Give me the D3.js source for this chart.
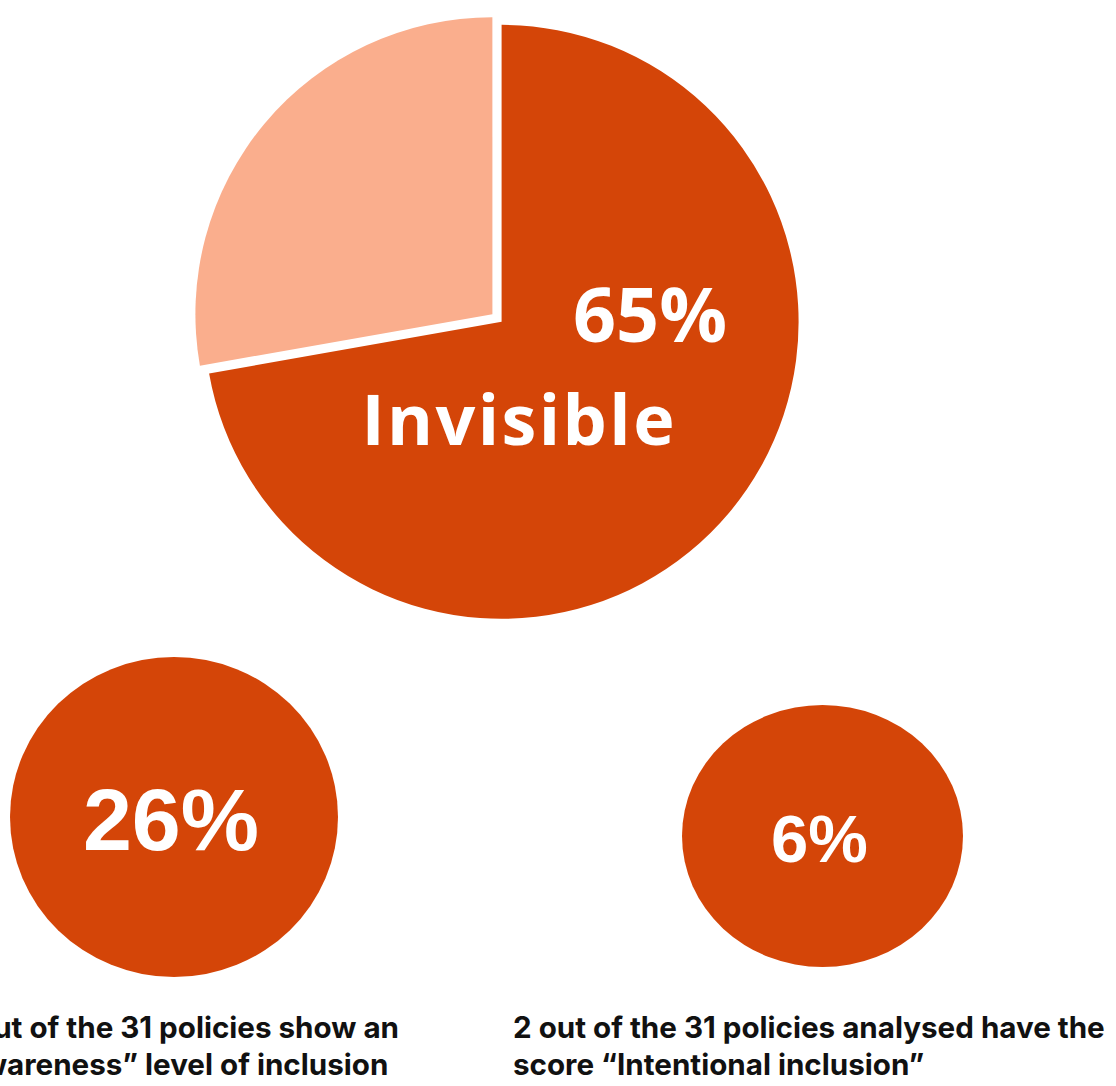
<!DOCTYPE html>
<html lang="en">
<head>
  <meta charset="UTF-8">
  <title>Inclusion scores of policies</title>
  <style>
    body {
      margin: 0;
      background: #fff;
      overflow: hidden;
    }
    .pct {
      font-family: 'Liberation Sans', Arial, sans-serif;
      font-weight: 700;
      fill: #fff;
      text-anchor: middle;
    }
    .pie-label {
      font-family: 'Open Sans', 'Liberation Sans', sans-serif;
      font-weight: 700;
      fill: #fff;
      text-anchor: middle;
    }
    .caption {
      font-family: Inter, 'Noto Sans', sans-serif;
      font-weight: 700;
      fill: #111;
    }
  </style>
  <script src="https://d3js.org/d3.v7.min.js"></script>
</head>
<body>
<svg width="1116" height="1086"></svg>
<script>
  // pie: share of policies scoring "Invisible" vs the rest
  const pieLabels = ['Invisible', 'Other'];
  const pieValues = [65, 25];
  const pieText = ['65%', 'Invisible'];

  // the two smaller scores shown as bubbles
  const bubbleLabels = ['Awareness', 'Intentional inclusion'];
  const bubbleValues = [26, 6];
  const captions = [
    ['8 out of the 31 policies show an', '\u201CAwareness\u201D level of inclusion'],
    ['2 out of the 31 policies analysed have the', 'score \u201CIntentional inclusion\u201D']
  ];

  const dark = '#d44508', light = '#faae8d';

  const svg = d3.select('svg');

  // ---- pie ----
  const cx = 497, cy = 318, r = 297, explode = 6;

  const pie = d3.pie().sort(null).value(d => d)(pieValues);
  const arc = d3.arc().innerRadius(0).outerRadius(r);

  svg.append('g')
      .attr('transform', `translate(${cx},${cy})`)
    .selectAll('path')
    .data(pie)
    .join('path')
      .attr('d', arc)
      .attr('fill', (d, i) => i === 0 ? dark : light)
      .attr('transform', d => {
        const a = (d.startAngle + d.endAngle) / 2;
        return `translate(${Math.sin(a) * explode},${-Math.cos(a) * explode})`;
      });

  svg.append('text')
      .attr('class', 'pie-label')
      .attr('x', 650)
      .attr('y', 342)
      .attr('textLength', 154)
      .attr('lengthAdjust', 'spacingAndGlyphs')
      .style('font-size', '76px')
      .text(pieText[0]);

  svg.append('text')
      .attr('class', 'pie-label')
      .attr('x', 518)
      .attr('y', 445)
      .attr('textLength', 313)
      .attr('lengthAdjust', 'spacing')
      .style('font-size', '70px')
      .text(pieText[1]);

  // ---- bubbles ----
  const bubbles = [
    { cx: 174, cy: 817, rx: 164, ry: 160, fs: 88, ty: 850 },
    { cx: 822.5, cy: 836, rx: 140.5, ry: 131, fs: 67, ty: 862 }
  ];

  const bg = svg.append('g')
    .selectAll('g')
    .data(bubbleValues)
    .join('g')
      .attr('aria-label', (d, i) => bubbleLabels[i]);

  bg.append('ellipse')
      .attr('cx', (d, i) => bubbles[i].cx)
      .attr('cy', (d, i) => bubbles[i].cy)
      .attr('rx', (d, i) => bubbles[i].rx)
      .attr('ry', (d, i) => bubbles[i].ry)
      .attr('fill', dark);

  bg.append('text')
      .attr('class', 'pct')
      .attr('x', (d, i) => bubbles[i].cx - 3)
      .attr('y', (d, i) => bubbles[i].ty)
      .style('font-size', (d, i) => bubbles[i].fs + 'px')
      .text(d => d3.format('d')(d) + '%');

  // ---- captions ----
  const lineY = [1038, 1075];
  const cap = svg.append('g');

  // size the caption font so the long right line spans 513 -> 1105
  const probe = cap.append('text').attr('class', 'caption')
      .style('font-size', '28px').text(captions[1][0]);
  const fs = 28 * 592 / probe.node().getComputedTextLength();
  probe.remove();

  captions[1].forEach((t, j) => {
    cap.append('text').attr('class', 'caption')
        .attr('x', 513).attr('y', lineY[j])
        .style('font-size', fs + 'px')
        .text(t);
  });

  // left caption runs off the left edge in the original
  const left = captions[0].map((t, j) => cap.append('text').attr('class', 'caption')
      .attr('y', lineY[j])
      .style('font-size', fs + 'px')
      .text(t));
  const leftX = 399 - left[0].node().getComputedTextLength();
  left.forEach(s => s.attr('x', leftX));
</script>
</body>
</html>
